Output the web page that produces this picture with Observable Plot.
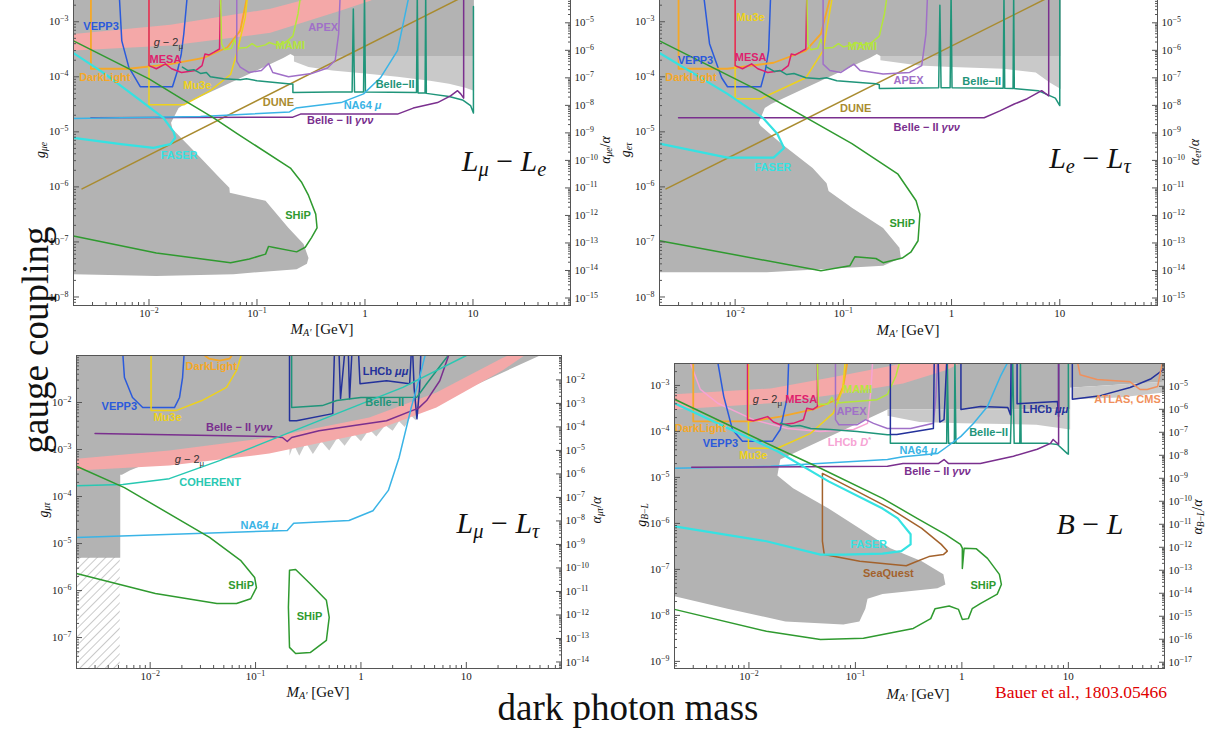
<!DOCTYPE html>
<html><head><meta charset="utf-8">
<script src="https://cdn.jsdelivr.net/npm/d3@7"></script>
<script src="https://cdn.jsdelivr.net/npm/@observablehq/plot@0.6"></script>
<style>
body{margin:0;background:#fff;}
#fig{position:relative;width:1220px;height:731px;overflow:hidden;font-family:"Liberation Serif","Times New Roman",serif;background:#fff;}
.panel{position:absolute;}
.lab{position:absolute;white-space:nowrap;line-height:1;color:#111;z-index:5;}
.lab sub{font-size:0.68em;vertical-align:-0.25em;}
</style></head><body><div id="fig"></div>
<script>
// ---------- tick labels ----------
const xTicks = [0.01, 0.1, 1, 10];
const yTicksTop = [1e-3, 1e-4, 1e-5, 1e-6, 1e-7, 1e-8];
const yTicksBL = [1e-2, 1e-3, 1e-4, 1e-5, 1e-6, 1e-7];
const yTicksBR = [1e-3, 1e-4, 1e-5, 1e-6, 1e-7, 1e-8, 1e-9];
const alphaExpsTop = [-5, -6, -7, -8, -9, -10, -11, -12, -13, -14, -15];
const alphaExpsBL = [-2, -3, -4, -5, -6, -7, -8, -9, -10, -11, -12, -13, -14];
const alphaExpsBR = [-5, -6, -7, -8, -9, -10, -11, -12, -13, -14, -15, -16, -17];

// ---------- L_mu - L_e (top left) ----------
const tlGray = [[0.002,3e-3],[10.2,3e-3],[10.2,2.4e-4],[0.22,2.4e-4],[0.204,2.6e-4],[0.175,2.2e-4],[0.0215,3.2e-5],[0.0188,2.7e-5],[0.016,1.46e-5],[0.0165,1.13e-5],[0.03,3.4e-6],[0.045,1.46e-6],[0.0555,9.6e-7],[0.056,7.8e-7],[0.12,5.6e-7],[0.196,1.8e-7],[0.27,9.2e-8],[0.3,5.1e-8],[0.29,4.0e-8],[0.233,3.2e-8],[0.0605,2.6e-8],[0.0117,2.4e-8],[0.002,2.6e-8]];
const tlNoise = [[0.22,2.4e-4],[10.2,2.4e-4],[10.2,5.6e-5],[8.5,6.3e-5],[6,7.5e-5],[4,8.5e-5],[2,1.0e-4],[1,1.15e-4],[0.5,1.3e-4],[0.3,1.5e-4],[0.22,1.9e-4]];
const tlBandLo = [[0.002,3.0e-4],[0.0158,3.7e-4],[0.133,6.3e-4],[0.59,1.58e-3],[1.12,2.4e-3],[1.5,3.2e-3]];
const tlBandHi = [[0.002,6.0e-4],[0.0158,8.8e-4],[0.133,1.72e-3],[0.253,2.4e-3],[0.35,3.2e-3]];
const tlVEPP3 = [[0.0053,3.2e-3],[0.0056,4.5e-4],[0.0065,1.5e-4],[0.0083,6.6e-5],[0.0165,6.6e-5],[0.0184,1.3e-4],[0.0199,2.6e-4],[0.021,6e-4],[0.0227,3.2e-3]];
const tlDarkLight = [[0.0029,3.2e-3],[0.0029,1.4e-4],[0.0065,1.4e-4],[0.0158,1.7e-4],[0.032,2.2e-4],[0.053,3.4e-4],[0.07,6.9e-4],[0.082,3.2e-3]];
const tlMu3e = [[0.01,3.2e-3],[0.01,3.1e-5],[0.021,3.1e-5],[0.037,5.6e-5],[0.057,1.1e-4],[0.066,3e-4],[0.078,1.2e-3],[0.082,3.2e-3]];
const tlMESA = [[0.01,3.2e-3],[0.01,1.6e-4],[0.0117,1.4e-4],[0.0142,1.72e-4],[0.0162,1.4e-4],[0.02,1.2e-4],[0.027,1.3e-4],[0.031,1.6e-4],[0.033,2.6e-4],[0.036,2.5e-4],[0.04,2.8e-4],[0.045,3.2e-4],[0.046,3.2e-3]];
const tlMAMI = [[0.046,3.2e-3],[0.047,4.0e-4],[0.05,3.1e-4],[0.058,3.3e-4],[0.062,4.8e-4],[0.066,3.3e-4],[0.08,3.4e-4],[0.09,4e-4],[0.1,3.5e-4],[0.12,3.8e-4],[0.13,4.2e-4],[0.15,3.8e-4],[0.18,4.1e-4],[0.215,5.5e-4],[0.24,1.4e-3],[0.255,3.2e-3]];
const tlAPEX = [[0.065,3.2e-3],[0.065,1.9e-4],[0.07,1.5e-4],[0.084,1.2e-4],[0.11,1.3e-4],[0.128,1.75e-4],[0.14,1.2e-4],[0.196,1.0e-4],[0.32,1.15e-4],[0.45,1.45e-4],[0.53,2e-4],[0.57,6e-4],[0.59,3.2e-3]];
const tlBelle = [[0.0204,1.5e-4],[0.023,1.3e-4],[0.026,1.35e-4],[0.03,1.15e-4],[0.034,1.2e-4],[0.037,1.0e-4],[0.049,9.2e-5],[0.07,8.8e-5],[0.08,9.2e-5],[0.1,8.5e-5],[0.204,7.4e-5],[0.215,7.4e-5],[0.215,5.2e-5],[0.5,5.3e-5],[0.76,5.3e-5],[0.78,1.7e-3],[0.8,5.3e-5],[0.97,5.3e-5],[0.99,3.2e-3],[1.01,5.3e-5],[3.0,5.2e-5],[3.05,3.2e-3],[3.1,5.1e-5],[3.6,5.1e-5],[3.65,3.2e-3],[3.7,5.0e-5],[6.0,4.4e-5],[8.0,3.8e-5],[9.5,3.0e-5],[10.1,2.2e-5],[10.1,1.9e-3]];
const tlGvv = [[0.0029,1.8e-5],[0.215,1.85e-5],[0.253,2.1e-5],[2.0,2.1e-5],[2.8,2.7e-5],[4.7,3.4e-5],[6.2,4.5e-5],[7.2,5.6e-5],[7.7,4.9e-5],[8.2,4.1e-5],[8.2,3.2e-3]];
const tlNA64 = [[0.002,1.75e-5],[0.03,1.9e-5],[0.2,2.3e-5],[0.23,2.7e-5],[0.6,3.4e-5],[0.97,4.9e-5],[1.39,9.6e-5],[2.0,3e-4],[2.5,2.4e-3],[2.6,3.2e-3]];
const tlDUNE = [[0.0024,9.2e-7],[10,3.5e-3]];
const tlSHiP = [[0.002,4.5e-4],[0.01,9.2e-5],[0.0196,4.1e-5],[0.0396,1.8e-5],[0.066,9.2e-6],[0.204,2.2e-6],[0.26,1.2e-6],[0.30,7e-7],[0.35,3.2e-7],[0.36,1.8e-7],[0.32,1.2e-7],[0.28,8e-8],[0.233,6.6e-8],[0.14,8.0e-8],[0.128,8.3e-8],[0.12,6.0e-8],[0.085,4.9e-8],[0.057,4.2e-8],[0.0117,6.3e-8],[0.002,1.28e-7]];
const tlFASER = [[0.002,2.7e-4],[0.0038,1.18e-4],[0.0078,4.1e-5],[0.0136,1.8e-5],[0.0169,1.0e-5],[0.0175,7.8e-6],[0.0158,6.0e-6],[0.011,5.1e-6],[0.0055,6.0e-6],[0.002,7.8e-6]];
const tlLabels = [["VEPP3",0.0036,8.1e-4,"VEPP3"],["g − 2μ",0.0151,4.15e-4,"g2"],["MESA",0.0142,2.1e-4,"MESA"],["DarkLight",0.0039,9.6e-5,"DarkLight"],["Mu3e",0.028,6.9e-5,"Mu3e"],["MAMI",0.204,3.7e-4,"MAMI"],["APEX",0.41,7.8e-4,"APEX"],["DUNE",0.158,3.4e-5,"DUNE"],["Belle−II",1.9,7.2e-5,"BelleII"],["NA64 μ",0.95,3e-5,"NA64"],["Belle − II γνν",0.59,1.58e-5,"gvv"],["FASER",0.019,3.8e-6,"FASER"],["SHiP",0.24,3.0e-7,"SHiP"]];

// ---------- L_e - L_tau (top right) ----------
const trGray = [[0.002,3e-3],[10.2,3e-3],[10.2,2.4e-4],[0.22,2.4e-4],[0.204,2.6e-4],[0.175,2.2e-4],[0.0215,3.2e-5],[0.0188,2.7e-5],[0.0165,1.46e-5],[0.0172,1.29e-5],[0.0268,6.1e-6],[0.052,2.2e-6],[0.07,1.17e-6],[0.073,8.4e-7],[0.12,4.2e-7],[0.233,1.8e-7],[0.33,7.8e-8],[0.34,5.1e-8],[0.233,3.7e-8],[0.0196,2.8e-8],[0.002,2.8e-8]];
const trNoise = [[0.22,2.4e-4],[10.2,2.4e-4],[10.2,6e-5],[8,8e-5],[6,1.2e-4],[3,1.4e-4],[1,1.5e-4],[0.5,1.6e-4],[0.22,2e-4]];
const trVEPP3 = [[0.0051,3.2e-3],[0.0058,4e-4],[0.0075,9.6e-5],[0.0085,6.6e-5],[0.0173,6.6e-5],[0.019,1.3e-4],[0.0204,3e-4],[0.0213,3.2e-3]];
const trDarkLight = [[0.003,3.2e-3],[0.003,1.4e-4],[0.0085,1.4e-4],[0.0227,1.8e-4],[0.045,3e-4],[0.062,6e-4],[0.077,3.2e-3]];
const trMu3e = [[0.01,3.2e-3],[0.01,4e-5],[0.0173,4e-5],[0.045,9.6e-5],[0.065,3e-4],[0.08,3.2e-3]];
const trMESA = [[0.01,3.2e-3],[0.01,1.6e-4],[0.0117,1.4e-4],[0.0142,1.72e-4],[0.0162,1.4e-4],[0.02,1.2e-4],[0.027,1.3e-4],[0.031,1.6e-4],[0.033,2.6e-4],[0.036,2.5e-4],[0.04,2.8e-4],[0.045,3.2e-4],[0.046,3.2e-3]];
const trMAMI = [[0.046,3.2e-3],[0.047,4.0e-4],[0.05,3.1e-4],[0.058,3.3e-4],[0.062,4.8e-4],[0.066,3.3e-4],[0.08,3.4e-4],[0.09,4e-4],[0.1,3.5e-4],[0.12,3.8e-4],[0.13,4.2e-4],[0.15,3.8e-4],[0.18,4.1e-4],[0.215,5.5e-4],[0.24,1.4e-3],[0.255,3.2e-3]];
const trAPEX = [[0.065,3.2e-3],[0.065,1.7e-4],[0.075,1.3e-4],[0.095,1.2e-4],[0.125,1.7e-4],[0.143,1.3e-4],[0.233,1.13e-4],[0.41,1.2e-4],[0.53,1.6e-4],[0.58,6e-4],[0.6,3.2e-3]];
const trBelle = [[0.0196,1.5e-4],[0.023,1.25e-4],[0.026,1.3e-4],[0.03,1.1e-4],[0.035,1.15e-4],[0.045,9.6e-5],[0.06,9.2e-5],[0.07,9.6e-5],[0.087,8.5e-5],[0.2,7.5e-5],[0.215,7.2e-5],[0.215,6.1e-5],[0.76,6.3e-5],[0.78,2e-3],[0.8,6.3e-5],[0.97,6.3e-5],[0.99,3.2e-3],[1.01,6.3e-5],[3.0,6.2e-5],[3.05,3.2e-3],[3.1,6.2e-5],[3.7,6.1e-5],[3.75,3.2e-3],[3.8,6.1e-5],[6.3,5.6e-5],[9.1,4.1e-5],[10,3e-5],[10,3.2e-3]];
const trGvv = [[0.003,1.8e-5],[2.0,1.8e-5],[2.8,2.4e-5],[3.8,3.2e-5],[5.0,4e-5],[6.8,5.6e-5],[7.9,4.5e-5],[7.9,3.2e-3]];
const trDUNE = [[0.0023,9.2e-7],[10,3.5e-3]];
const trSHiP = [[0.002,4.5e-4],[0.0165,5.6e-5],[0.12,6.1e-6],[0.32,1.7e-6],[0.47,5.6e-7],[0.51,3.2e-7],[0.49,1.05e-7],[0.42,6.5e-8],[0.35,5.1e-8],[0.233,4.2e-8],[0.2,5.0e-8],[0.128,5.4e-8],[0.115,3.7e-8],[0.062,3.0e-8],[0.002,1.05e-7]];
const trFASER = [[0.002,2.7e-4],[0.0085,4.9e-5],[0.018,1.8e-5],[0.0245,9.2e-6],[0.0283,5.1e-6],[0.0227,3.4e-6],[0.0085,3.4e-6],[0.002,6.1e-6]];
const trLabels = [["Mu3e",0.0139,1.18e-3,"Mu3e"],["VEPP3",0.0043,1.95e-4,"VEPP3"],["MESA",0.0139,2.2e-4,"MESA"],["DarkLight",0.0039,9.6e-5,"DarkLight"],["MAMI",0.15,3.5e-4,"MAMI"],["APEX",0.40,8.5e-5,"APEX"],["Belle−II",1.9,8.2e-5,"BelleII"],["DUNE",0.13,2.7e-5,"DUNE"],["Belle − II γνν",0.59,1.2e-5,"gvv"],["FASER",0.0223,2.3e-6,"FASER"],["SHiP",0.35,2.2e-7,"SHiP"]];

// ---------- L_mu - L_tau (bottom left) ----------
const blGray = [[0.002,0.1],[50,0.1],[3.6,6.8e-3],[0.21,1.7e-3],[0.0455,1.0e-3],[0.0178,9.1e-4],[0.0064,3.6e-4],[0.0054,2.9e-4],[0.0052,2.9e-4],[0.0052,5e-6],[0.002,5e-6]];
const blNoise = [[0.21,1.7e-3],[3.6,6.8e-3],[3.3,4.2e-3],[3.0,5.2e-3],[2.6,3.0e-3],[2.3,4.0e-3],[2.0,2.5e-3],[1.7,3.3e-3],[1.4,1.9e-3],[1.2,2.7e-3],[1.0,1.5e-3],[0.85,2.2e-3],[0.7,1.2e-3],[0.6,1.8e-3],[0.5,9.5e-4],[0.42,1.5e-3],[0.35,8e-4],[0.3,1.4e-3],[0.26,7.4e-4],[0.23,1.3e-3],[0.21,7.4e-4]];
const blHatch = [{m1:0.002, m2:0.0052, g1:2.2e-8, g2:5e-6}];
const blBandLo = [[0.002,3.6e-4],[0.0152,4.6e-4],[0.135,8.2e-4],[1.2,2.3e-3],[5.2,7.8e-3],[22,0.048],[40,0.12]];
const blBandHi = [[0.002,6.4e-4],[0.0152,9.5e-4],[0.135,1.8e-3],[1.2,4.8e-3],[5.2,0.0163],[22,0.089],[30,0.12]];
const blVEPP3 = [[0.0055,0.11],[0.0057,0.034],[0.0068,0.0128],[0.0085,7.8e-3],[0.017,7.8e-3],[0.019,0.0128],[0.0203,0.034],[0.021,0.11]];
const blMu3e = [[0.0102,0.11],[0.0102,6.8e-3],[0.0178,6.8e-3],[0.031,0.011],[0.053,0.021],[0.066,0.048],[0.074,0.11]];
const blDarkLight = [[0.031,0.11],[0.036,0.086],[0.0455,0.078],[0.057,0.086],[0.061,0.11]];
const blGvv = [[0.003,2.2e-3],[0.135,1.9e-3],[0.18,1.8e-3],[0.2,1.48e-3],[0.22,1.8e-3],[0.4,2.5e-3],[0.83,3.2e-3],[1.75,4.1e-3],[3.1,6.8e-3],[3.5,7.5e-3],[4.2,0.011],[5.6,0.029],[6.9,0.11]];
const blBelle = [[0.22,0.11],[0.22,7.8e-3],[0.43,8.6e-3],[0.59,0.011],[1.0,0.0128],[3.4,0.013],[4.2,0.025],[6.5,0.091],[7,0.11]];
const blLHCb1 = [[0.21,0.11],[0.21,4.1e-3],[0.245,4.1e-3],[0.54,5.8e-3],[0.56,0.11]];
const blLHCb2 = [[0.62,0.11],[0.64,0.012],[0.7,0.11]];
const blLHCb3 = [[0.76,0.11],[0.78,0.012],[0.82,0.11]];
const blLHCb4 = [[0.95,0.11],[0.98,0.025],[1.75,0.029],[2.9,0.025],[3.0,0.11]];
const blLHCb5 = [[3.1,0.11],[3.2,0.02],[3.4,4.5e-3],[3.6,0.02],[3.7,0.11]];
const blCOHERENT = [[0.002,1.7e-4],[0.0055,1.8e-4],[0.0152,2.4e-4],[0.0455,5.8e-4],[0.135,1.55e-3],[0.59,5.8e-3],[2.5,0.021],[10,0.1]];
const blNA64 = [[0.002,1.35e-5],[0.2,1.9e-5],[0.23,2.7e-5],[0.77,3.1e-5],[1.3,5e-5],[1.82,1.35e-4],[2.3,6.7e-4],[3.0,7.8e-3],[3.6,0.034],[4.1,0.11]];
const blSHiP1 = [[0.002,4.4e-4],[0.0057,1.55e-4],[0.0366,1.35e-5],[0.072,4.4e-6],[0.098,1.9e-6],[0.102,1.15e-6],[0.09,6.7e-7],[0.066,5.3e-7],[0.043,5.3e-7],[0.0112,8.7e-7],[0.002,2.3e-6]];
const blSHiP2 = [[0.21,2.7e-6],[0.24,2.8e-6],[0.33,1.4e-6],[0.47,6.2e-7],[0.5,2.7e-7],[0.47,8.7e-8],[0.33,4.8e-8],[0.24,4.6e-8],[0.21,6.2e-8],[0.205,4.4e-7],[0.21,2.7e-6]];
const blLabels = [["DarkLight",0.038,0.058,"DarkLight"],["VEPP3",0.0051,8.2e-3,"VEPP3"],["Mu3e",0.0146,4.8e-3,"Mu3e"],["LHCb μμ",1.71,0.046,"LHCbmm"],["Belle−II",1.68,0.01,"BelleII"],["Belle − II γνν",0.07,2.9e-3,"gvv"],["g − 2μ",0.0236,6.1e-4,"g2"],["COHERENT",0.037,2.0e-4,"COHERENT"],["NA64 μ",0.109,2.4e-5,"NA64"],["SHiP",0.073,1.28e-6,"SHiP"],["SHiP",0.325,2.8e-7,"SHiP"]];

// ---------- B - L (bottom right) ----------
const brGray = [[0.002,3e-3],[80,3e-3],[80,1.2e-3],[11,9e-4],[10.4,9e-4],[10.4,3e-4],[0.2,3e-4],[0.183,2.7e-4],[0.0197,2.45e-5],[0.0185,1.1e-5],[0.026,5.8e-6],[0.056,2.1e-6],[0.109,7.8e-7],[0.213,2.9e-7],[0.42,1.5e-7],[0.67,7.8e-8],[0.70,4.7e-8],[0.59,3.9e-8],[0.18,2.9e-8],[0.13,2.3e-8],[0.124,1.4e-8],[0.109,7.4e-9],[0.077,6.3e-9],[0.022,7.4e-9],[0.0063,1.4e-8],[0.002,2.6e-8]];
const brNoise1 = [[0.2,3e-4],[10.4,3e-4],[10.4,1.1e-4],[5,1.4e-4],[1,1.5e-4],[0.4,1.6e-4],[0.2,2.2e-4]];
const brNoise2 = [[11,9e-4],[80,1.2e-3],[80,7e-4],[30,5.5e-4],[11,5e-4]];
const brBandLo = [[0.002,3.0e-4],[0.016,4.1e-4],[0.068,6.4e-4],[0.28,1.1e-3],[0.73,2.2e-3],[1.0,3.2e-3]];
const brBandHi = [[0.002,6.4e-4],[0.016,8.6e-4],[0.068,1.58e-3],[0.28,3.0e-3],[0.35,3.6e-3]];
const brDarkLight = [[0.003,3.2e-3],[0.003,1.65e-4],[0.0103,1.65e-4],[0.0197,2.1e-4],[0.04,3.0e-4],[0.068,5e-4],[0.077,9.5e-4],[0.084,3.2e-3]];
const brLHCbD = [[0.0028,3.2e-3],[0.0035,8.2e-4],[0.0051,4.1e-4],[0.011,1.8e-4],[0.023,1.16e-4],[0.047,1.0e-4],[0.096,1.1e-4],[0.13,1.5e-4],[0.14,8.2e-4],[0.145,3.2e-3]];
const brVEPP3 = [[0.0051,3.2e-3],[0.0058,5.8e-4],[0.007,1.1e-4],[0.0087,6.1e-5],[0.0166,6.1e-5],[0.0197,1.1e-4],[0.023,5.8e-4],[0.0236,3.2e-3]];
const brMu3e = [[0.0099,3.2e-3],[0.0099,4.3e-5],[0.0185,4.3e-5],[0.038,9.1e-5],[0.062,2.5e-4],[0.076,8.2e-4],[0.08,3.2e-3]];
const brMESA = [[0.0097,3.2e-3],[0.0097,1.8e-4],[0.011,1.7e-4],[0.015,2.1e-4],[0.017,1.6e-4],[0.0197,1.4e-4],[0.026,1.5e-4],[0.0325,1.8e-4],[0.035,3.2e-4],[0.04,3.0e-4],[0.044,3.5e-4],[0.044,3.2e-3]];
const brMAMI = [[0.044,3.2e-3],[0.045,3.9e-4],[0.055,3.9e-4],[0.06,5.5e-4],[0.064,4.1e-4],[0.08,4.3e-4],[0.1,4.5e-4],[0.13,4.7e-4],[0.16,4.9e-4],[0.2,6.4e-4],[0.24,1.6e-3],[0.26,3.2e-3]];
const brAPEX = [[0.065,3.2e-3],[0.065,1.8e-4],[0.07,1.4e-4],[0.104,1.4e-4],[0.125,1.8e-4],[0.148,1.5e-4],[0.2,1.16e-4],[0.33,1.16e-4],[0.54,1.5e-4],[0.57,5.8e-4],[0.59,3.2e-3]];
const brBelle = [[0.0197,1.5e-4],[0.025,1.3e-4],[0.03,1.35e-4],[0.038,1.16e-4],[0.058,1.1e-4],[0.104,1.0e-4],[0.2,8.5e-5],[0.213,8.5e-5],[0.213,5.5e-5],[0.59,5.5e-5],[0.72,5.5e-5],[0.73,3.2e-3],[0.75,5.5e-5],[0.85,5.5e-5],[0.86,3.2e-3],[0.88,5.5e-5],[2.86,5.5e-5],[3.0,3.2e-3],[3.1,5.5e-5],[3.5,5.5e-5],[3.55,3.2e-3],[3.6,5.5e-5],[6.4,5.5e-5],[7.9,5.2e-5],[9.8,3.3e-5],[10,3.2e-5],[10,3.2e-3]];
const brNA64 = [[0.002,1.58e-5],[0.016,1.75e-5],[0.2,2.45e-5],[0.28,2.8e-5],[0.59,3.3e-5],[0.73,4.7e-5],[0.98,7.8e-5],[1.29,1.5e-4],[1.74,3.5e-4],[2.3,1.57e-3],[2.7,3.2e-3]];
const brGvv = [[0.0029,1.66e-5],[0.2,1.75e-5],[0.28,2.0e-5],[0.6,2.0e-5],[0.68,2.45e-5],[0.75,2.0e-5],[1.49,2.0e-5],[3.05,2.9e-5],[5.1,4.1e-5],[6.8,5.5e-5],[7.2,6.7e-5],[8.1,5.2e-5],[8.1,3.2e-3]];
const brLHCb1 = [[0.213,3.2e-3],[0.213,8.6e-5],[0.245,8.6e-5],[0.54,1.16e-4],[0.55,3.2e-3]];
const brLHCb2 = [[0.6,3.2e-3],[0.62,1.6e-4],[0.68,1.8e-4],[0.72,3.2e-3]];
const brLHCb3 = [[0.98,3.2e-3],[0.98,3.0e-4],[1.5,3.5e-4],[2.7,3.3e-4],[2.86,2.3e-4],[2.9,3.2e-3]];
const brLHCb4 = [[3.3,3.2e-3],[3.3,4.0e-4],[7.9,4.5e-4],[8.1,2.1e-4],[8.1,3.2e-3]];
const brLHCb5 = [[10.9,3.2e-3],[10.9,5e-4],[20,6e-4],[38,9e-4],[60,1.4e-3],[80,2.3e-3]];
const brATLAS = [[12.2,3.2e-3],[12.9,1.7e-3],[18.6,1.35e-3],[38,1.2e-3],[47,8.2e-4],[55,8.2e-4],[69,9.5e-4],[74,2.2e-3],[77,3.2e-3]];
const brSHiP = [[0.002,5e-4],[0.0185,4.3e-5],[0.047,1.58e-5],[0.18,3.5e-6],[0.38,1.29e-6],[0.7,5.8e-7],[0.97,3.5e-7],[1.01,2.9e-7],[1.01,1.05e-7],[1.05,2.9e-7],[1.37,2.8e-7],[1.74,1.74e-7],[2.25,7.8e-8],[2.35,4.7e-8],[2.15,2.9e-8],[1.49,1.8e-8],[1.25,1.4e-8],[1.15,8.5e-9],[1.01,8.1e-9],[0.93,1.35e-8],[0.76,1.6e-8],[0.56,1.4e-8],[0.51,8.5e-9],[0.35,5.2e-9],[0.119,3.2e-9],[0.047,3.0e-9],[0.0146,4.5e-9],[0.002,1.35e-8]];
const brFASER = [[0.002,4.1e-4],[0.0185,3.7e-5],[0.056,8.2e-6],[0.18,2.1e-6],[0.25,1.29e-6],[0.33,5.8e-7],[0.33,3.5e-7],[0.27,2.5e-7],[0.18,2.2e-7],[0.077,2.1e-7],[0.047,2.1e-7],[0.0146,4.1e-7],[0.002,8.6e-7]];
const brSeaQuest = [[0.049,1.22e-5],[0.092,5.8e-6],[0.213,2.1e-6],[0.42,7.8e-7],[0.64,3.5e-7],[0.73,2.5e-7],[0.67,2.1e-7],[0.49,1.9e-7],[0.38,1.5e-7],[0.30,1.2e-7],[0.213,1.3e-7],[0.11,1.5e-7],[0.051,2.1e-7],[0.049,4.1e-7],[0.049,1.22e-5]];
const brLabels = [["g − 2μ",0.0149,5e-4,"g2"],["MESA",0.031,5e-4,"MESA"],["MAMI",0.105,8.2e-4,"MAMI"],["APEX",0.092,2.7e-4,"APEX"],["DarkLight",0.0035,1.16e-4,"DarkLight"],["VEPP3",0.0054,5.5e-5,"VEPP3"],["Mu3e",0.011,3.0e-5,"Mu3e"],["LHCb D*",0.088,5.7e-5,"LHCbD"],["NA64 μ",0.39,3.9e-5,"NA64"],["Belle − II γνν",0.59,1.35e-5,"gvv"],["Belle−II",1.78,9.5e-5,"BelleII"],["LHCb μμ",6.1,3e-4,"LHCbmm"],["ATLAS, CMS",36,5e-4,"ATLAS"],["FASER",0.133,3.5e-7,"FASER"],["SeaQuest",0.204,8.2e-8,"SeaQuest"],["SHiP",1.59,4.5e-8,"SHiP"]];

// ---------- styling ----------
const C = {gray:"#b3b3b3", noise:"#c9c9c9", band:"#f4a8a8", VEPP3:"#2a5adc", DarkLight:"#f5a828", Mu3e:"#eed21b", MESA:"#de1f6e", MAMI:"#b4e63c", APEX:"#a070c8", BelleII:"#1f957a", gvv:"#7a2f8e", NA64:"#3ab4e6", DUNE:"#a98b2f", SHiP:"#2f9a2f", FASER:"#35e2e2", COHERENT:"#28c8b2", LHCbmm:"#23319b", LHCbD:"#f6a3d4", SeaQuest:"#a3622c", ATLAS:"#f0905c", g2:"#333333"};
const RICH = {
  "g − 2μ": {html:'<tspan font-style="italic">g</tspan> − 2<tspan font-size="8" dy="3">μ</tspan>', weight:"normal"},
  "NA64 μ": {html:'NA64 <tspan font-style="italic">μ</tspan>'},
  "Belle − II γνν": {html:'Belle − II <tspan font-style="italic">γνν</tspan>'},
  "LHCb μμ": {html:'LHCb <tspan font-style="italic">μμ</tspan>'},
  "LHCb D*": {html:'LHCb <tspan font-style="italic">D</tspan><tspan font-size="8" dy="-4">*</tspan>'}
};
const K = 4 * Math.PI / 137.036; // alpha'/alpha = g^2 / K
const pts = a => a.map(([m, g]) => ({m, g}));
const poly = (lo, hi) => lo.concat(hi.slice().reverse());
function minors(lo, hi){ const out=[]; for(let e=Math.floor(Math.log10(lo)); e<=Math.ceil(Math.log10(hi)); e++) for(let k=2;k<=9;k++){ const v=k*Math.pow(10,e); if(v>=lo&&v<=hi) out.push(v);} return out; }
const pow = e => (e === 0 ? "1" : e === 1 ? "10" : "10^" + (e < 0 ? "−" + (-e) : e));
const fmtLog = v => pow(Math.round(Math.log10(v)));
const fmtAlpha = g => pow(Math.round(Math.log10(g * g / K)));

const fig = document.getElementById("fig");

function makePanel(p){
  const marks = [];
  p.fills.forEach(([d, col]) => marks.push(Plot.line(pts(d), {x:"m", y:"g", fill:col, stroke:"none", clip:true})));
  if (p.hatch) marks.push(Plot.rect(p.hatch, {x1:"m1", x2:"m2", y1:"g1", y2:"g2", fill:"url(#hatch)", clip:true}));
  p.lines.forEach(([d, col, w]) => marks.push(Plot.line(pts(d), {x:"m", y:"g", stroke:col, strokeWidth:w || 1.5, clip:true})));
  marks.push(Plot.text(p.labels, {x:d=>d[1], y:d=>d[2], text:d=>d[0], fill:d=>C[d[3]], fontSize:11, fontWeight:"bold", fontFamily:"Liberation Sans, Arial, sans-serif"}));
  const [ylo, yhi] = p.yDomain;
  const aMajor = p.alphaExps.map(e => Math.sqrt(Math.pow(10, e) * K));
  const aMinor = [];
  p.alphaExps.concat([p.alphaExps[p.alphaExps.length-1]-1]).forEach(e => { for (let k=2;k<=9;k++){ const g=Math.sqrt(k*Math.pow(10,e)*K); if (g>ylo && g<yhi) aMinor.push(g);} });
  const blank = () => "";
  marks.push(
    Plot.axisX({ticks:xTicks, tickSize:0, tickPadding:4, tickFormat:fmtLog, label:null, fontSize:11}),
    Plot.axisX({ticks:xTicks, tickSize:-6, tickFormat:blank, label:null, stroke:"#555"}),
    Plot.axisX({ticks:minors(0.002, 80), tickSize:-3, tickFormat:blank, label:null, stroke:"#555"}),
    Plot.axisY({ticks:p.yTicks, anchor:"left", tickSize:0, tickPadding:5, tickFormat:fmtLog, label:null, fontSize:11}),
    Plot.axisY({ticks:p.yTicks, anchor:"left", tickSize:-6, tickFormat:blank, label:null, stroke:"#555"}),
    Plot.axisY({ticks:minors(ylo, yhi), anchor:"left", tickSize:-3, tickFormat:blank, label:null, stroke:"#555"}),
    Plot.text(aMajor, {y:d=>d, frameAnchor:"right", textAnchor:"start", dx:4, text:fmtAlpha, fontSize:11, fill:"#222"}),
    Plot.axisY({ticks:aMajor, anchor:"right", tickSize:-6, tickFormat:blank, label:null, stroke:"#555"}),
    Plot.axisY({ticks:aMinor, anchor:"right", tickSize:-3, tickFormat:blank, label:null, stroke:"#555"}),
    Plot.frame({stroke:"#555", strokeWidth:1})
  );
  const svg = Plot.plot({
    width:p.width, height:p.height,
    marginLeft:p.m[0], marginRight:p.m[1], marginTop:p.m[2], marginBottom:p.m[3],
    x:{type:"log", domain:[0.002, 80]},
    y:{type:"log", domain:p.yDomain},
    color:{type:"identity"},
    style:{background:"transparent", fontFamily:"Liberation Serif, Times New Roman, serif", fontSize:"11px", color:"#222", overflow:"visible"},
    marks
  });
  if (p.hatch) svg.insertAdjacentHTML("afterbegin", '<defs><pattern id="hatch" patternUnits="userSpaceOnUse" width="6" height="6" patternTransform="rotate(45)"><line x1="0" y1="0" x2="0" y2="6" stroke="#8a8a8a" stroke-width="0.9"/></pattern></defs>');
  svg.querySelectorAll("text").forEach(t => {
    const s = t.textContent;
    if (RICH[s]) { t.innerHTML = RICH[s].html; if (RICH[s].weight) t.setAttribute("font-weight", RICH[s].weight); }
    else if (s.includes("^")) { const [b, e] = s.split("^"); t.innerHTML = b + '<tspan dy="-0.5em" font-size="0.72em">' + e + '</tspan>'; }
  });
  svg.classList.add("panel");
  svg.style.left = p.left + "px"; svg.style.top = p.top + "px";
  fig.appendChild(svg);
}

makePanel({left:0, top:-5, width:610, height:345, m:[73,40,0,35], yDomain:[7e-9,3e-3], yTicks:yTicksTop, alphaExps:alphaExpsTop,
  fills:[[tlGray,C.gray],[tlNoise,C.noise],[poly(tlBandLo, tlBandHi),C.band]],
  lines:[[tlDUNE,C.DUNE],[tlVEPP3,C.VEPP3],[tlDarkLight,C.DarkLight,1.8],[tlMu3e,C.Mu3e],[tlMESA,C.MESA],[tlMAMI,C.MAMI],[tlAPEX,C.APEX],[tlBelle,C.BelleII],[tlGvv,C.gvv],[tlNA64,C.NA64],[tlSHiP,C.SHiP],[tlFASER,C.FASER,2.2]],
  labels:tlLabels});
makePanel({left:610, top:-5, width:610, height:345, m:[49,63,0,35], yDomain:[7e-9,3e-3], yTicks:yTicksTop, alphaExps:alphaExpsTop,
  fills:[[trGray,C.gray],[trNoise,C.noise]],
  lines:[[trDUNE,C.DUNE],[trVEPP3,C.VEPP3],[trDarkLight,C.DarkLight,1.8],[trMu3e,C.Mu3e],[trMESA,C.MESA],[trMAMI,C.MAMI],[trAPEX,C.APEX],[trBelle,C.BelleII],[trGvv,C.gvv],[trSHiP,C.SHiP],[trFASER,C.FASER,2.2]],
  labels:trLabels});
makePanel({left:0, top:340, width:610, height:391, m:[76,49,15,63], yDomain:[2.2e-8,0.1], yTicks:yTicksBL, alphaExps:alphaExpsBL,
  fills:[[blGray,C.gray],[blNoise,C.noise],[poly(blBandLo, blBandHi),C.band]], hatch:blHatch,
  lines:[[blVEPP3,C.VEPP3],[blMu3e,C.Mu3e],[blDarkLight,C.DarkLight,1.8],[blLHCb1,C.LHCbmm],[blLHCb2,C.LHCbmm],[blLHCb3,C.LHCbmm],[blLHCb4,C.LHCbmm],[blLHCb5,C.LHCbmm],[blBelle,C.BelleII],[blGvv,C.gvv],[blCOHERENT,C.COHERENT],[blNA64,C.NA64],[blSHiP1,C.SHiP],[blSHiP2,C.SHiP]],
  labels:blLabels});
makePanel({left:610, top:340, width:610, height:391, m:[64,56,23,63], yDomain:[7e-10,3e-3], yTicks:yTicksBR, alphaExps:alphaExpsBR,
  fills:[[brGray,C.gray],[brNoise1,C.noise],[brNoise2,C.noise],[poly(brBandLo, brBandHi),C.band]],
  lines:[[brLHCbD,C.LHCbD],[brDarkLight,C.DarkLight,1.8],[brVEPP3,C.VEPP3],[brMu3e,C.Mu3e],[brMESA,C.MESA],[brMAMI,C.MAMI],[brAPEX,C.APEX],[brBelle,C.BelleII],[brLHCb1,C.LHCbmm],[brLHCb2,C.LHCbmm],[brLHCb3,C.LHCbmm],[brLHCb4,C.LHCbmm],[brLHCb5,C.LHCbmm],[brATLAS,C.ATLAS],[brNA64,C.NA64],[brGvv,C.gvv],[brSeaQuest,C.SeaQuest],[brFASER,C.FASER,2.2],[brSHiP,C.SHiP]],
  labels:brLabels});

// ---------- text overlays ----------
function overlay(html, x, y, style, rot){
  const d = document.createElement("div");
  d.className = "lab"; d.innerHTML = html;
  d.style.left = x + "px"; d.style.top = y + "px";
  d.style.transform = "translate(-50%,-50%)" + (rot ? " rotate(-90deg)" : "");
  Object.assign(d.style, style || {});
  fig.appendChild(d);
}
const big = {fontSize:"30px"};
overlay('<i>L</i><sub><i>μ</i></sub> − <i>L</i><sub><i>e</i></sub>', 504, 163, big);
overlay('<i>L</i><sub><i>e</i></sub> − <i>L</i><sub><i>τ</i></sub>', 1090, 160, big);
overlay('<i>L</i><sub><i>μ</i></sub> − <i>L</i><sub><i>τ</i></sub>', 498, 525, big);
overlay('<i>B</i> − <i>L</i>', 1090, 524, big);
const ax = {fontSize:"15px"};
const mlab = '<i>M</i><sub><i>A′</i></sub> [GeV]';
overlay(mlab, 322, 330, ax); overlay(mlab, 908, 331, ax); overlay(mlab, 318, 693, ax); overlay(mlab, 918, 695, ax);
const yl = {fontSize:"14px"};
overlay('<i>g</i><sub><i>μe</i></sub>', 42, 150, yl, true);
overlay('<i>g</i><sub><i>eτ</i></sub>', 627, 150, yl, true);
overlay('<i>g</i><sub><i>μτ</i></sub>', 45, 510, yl, true);
overlay('<i>g</i><sub><i>B</i>−<i>L</i></sub>', 643, 515, yl, true);
overlay('<i>α</i><sub><i>μe</i></sub>/<i>α</i>', 607, 150, yl, true);
overlay('<i>α</i><sub><i>eτ</i></sub>/<i>α</i>', 1196, 152, yl, true);
overlay('<i>α</i><sub><i>μτ</i></sub>/<i>α</i>', 598, 510, yl, true);
overlay('<i>α</i><sub><i>B</i>−<i>L</i></sub>/<i>α</i>', 1199, 517, yl, true);
overlay('gauge coupling', 35, 340, {fontSize:"37px"}, true);
overlay('dark photon mass', 628, 707, {fontSize:"37px"});
overlay('Bauer et al., 1803.05466', 1081, 693, {fontSize:"17.5px", color:"#e00000"});
</script></body></html>
